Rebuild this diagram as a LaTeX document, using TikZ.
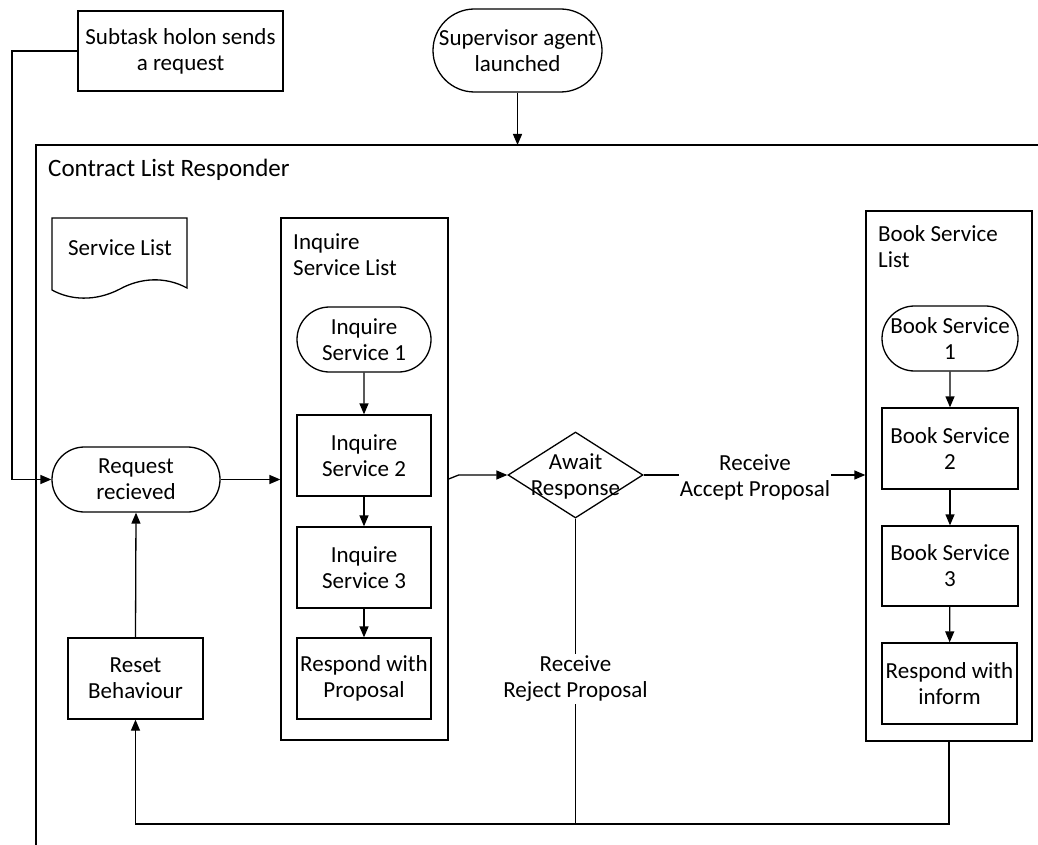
\documentclass[tikz,border=0pt]{standalone}
\usepackage{fontspec}
\setmainfont{Carlito}
\usetikzlibrary{arrows.meta,shapes.geometric,shapes.misc,calc}

\begin{document}
\begin{tikzpicture}[x=1pt,y=-1pt,
  every node/.style={font=\fontsize{23}{26}\selectfont, align=center},
  line/.style={draw=black, line width=1.3pt},
  arr/.style={line, -{Triangle[length=11pt,width=9pt]}},
  box/.style={draw=black, line width=1.3pt, rectangle, inner sep=0pt},
  term/.style={draw=black, line width=1.3pt, rounded rectangle, inner sep=0pt},
  stepbox/.style={box, minimum width=134pt, minimum height=81pt},
  lane/.style={box}
]
\useasboundingbox (0,0) rectangle (1038,845);

% outer responder frame (runs off the page to the right and bottom)
\coordinate (frametop) at (36,145);
\draw[line] (36,845) -- (frametop) -- (1038,145);
\node[anchor=west, inner sep=0pt, font=\fontsize{25}{28}\selectfont] (crl) at (48,170) {Contract List Responder};

% starting events
\node[box, minimum width=205pt, minimum height=80pt] (sub) at (180.5,51) {Subtask holon sends\\a request};
\node[term, minimum width=169pt, minimum height=83pt] (sup) at (517.5,50.5) {Supervisor agent\\launched};
\draw[arr] (sup.south) -- (sup.south |- frametop);

% service list document
\draw[line] (52,290) -- (52,218) -- (187,218) -- (187,288)
  .. controls (165,276) and (140,278) .. (120,289)
  .. controls (95,302) and (70,300) .. (52,290) -- cycle;
\node (svc) at (120,248) {Service List};

% request handling
\node[term, minimum width=168pt, minimum height=65pt] (req) at (136,479.5) {Request\\recieved};
\node[box, minimum width=135pt, minimum height=81pt] (reset) at (135.5,678.5) {Reset\\Behaviour};
\draw[arr] (reset.north) -- (req.south);

\coordinate (lx) at (12,0);
\draw[arr] (sub.west) -- (sub.west -| lx) -- (req.west -| lx) -- (req.west);

% inquire service list
\node[lane, minimum width=167pt, minimum height=522pt] (inq) at (364.5,479) {};
\node[anchor=west, align=left, inner sep=0pt] (inqlbl) at (293,255) {Inquire\\Service List};
\node[term, minimum width=134pt, minimum height=65pt] (is1) at (364,339.5) {Inquire\\Service 1};
\node[stepbox] (is2) at (364,455.5) {Inquire\\Service 2};
\node[stepbox] (is3) at (364,567.5) {Inquire\\Service 3};
\node[stepbox] (rp) at (364,678.5) {Respond with\\Proposal};
\draw[arr] (is1) -- (is2);
\draw[arr] (is2) -- (is3);
\draw[arr] (is3) -- (rp);
\draw[arr] (req.east) -- (req.east -| inq.west);

% decision
\node[diamond, draw=black, line width=1.3pt, inner sep=0pt,
      minimum width=135pt, minimum height=86pt] (await) at (575.5,475) {};
\node (awaittxt) at (575.5,476) {Await\\Response};
\draw[arr] (inq.east) -- ($(await.west -| inq.east)+(10,0)$) -- (await.west);

% book service list
\node[lane, minimum width=166pt, minimum height=530pt] (book) at (949,476) {};
\node[anchor=west, align=left, inner sep=0pt] (booklbl) at (878,247) {Book Service\\List};
\node[term, minimum width=136pt, minimum height=65pt] (bs1) at (950,338.5) {Book Service\\1};
\node[stepbox, minimum width=136pt] (bs2) at (950,448.5) {Book Service\\2};
\node[stepbox, minimum width=136pt, minimum height=80pt] (bs3) at (950,566) {Book Service\\3};
\node[stepbox, minimum width=135pt] (inform) at (949.5,683.5) {Respond with\\inform};
\draw[arr] (bs1) -- (bs2);
\draw[arr] (bs2) -- (bs3);
\draw[arr] (bs3) -- (inform);

% outcomes of the decision
\node[inner sep=1pt] (acc) at (755,477) {Receive\\Accept Proposal};
\draw[line] (await.east) -- (await.east -| acc.west);
\draw[arr] (acc.east |- await.east) -- (await.east -| book.west);

\node[inner sep=2pt] (rej) at (575.5,679) {Receive\\Reject Proposal};
\draw[line] (await.south) -- (rej.north);

\coordinate (base) at (0,824);
\draw[line] (rej.south) -- (rej.south |- base);
\draw[arr] (book.south) -- (book.south |- base) -- (reset.south |- base) -- (reset.south);
\end{tikzpicture}
\end{document}
